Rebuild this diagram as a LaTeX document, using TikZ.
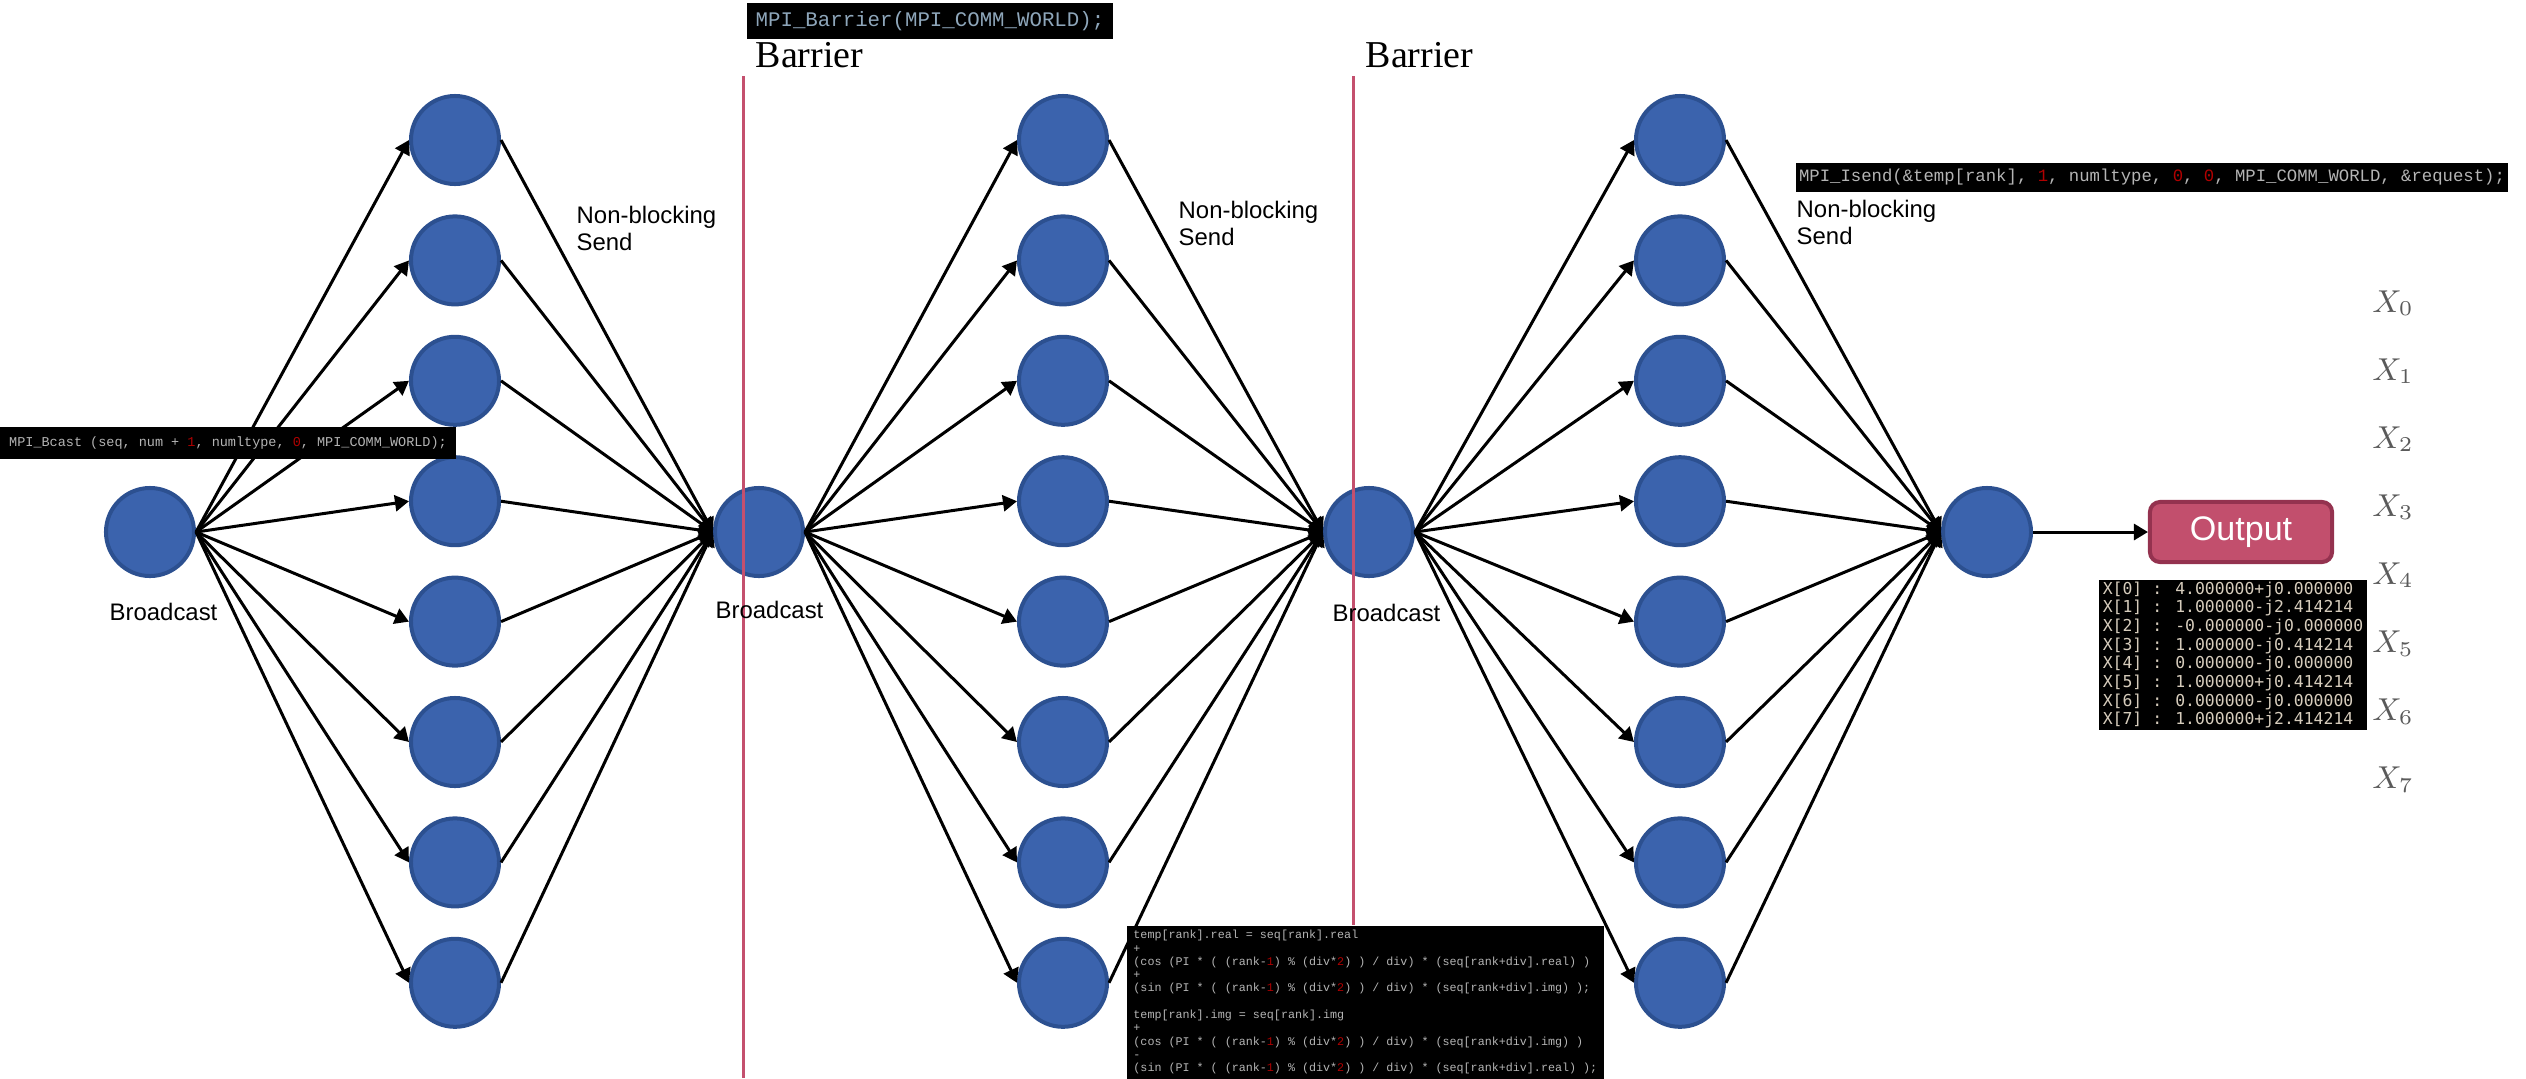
\documentclass[tikz,border=0pt]{standalone}
\usepackage{fontspec}
\setmainfont{Liberation Sans}
\newfontfamily\seriffont{Liberation Serif}
\newfontfamily\codefont{Liberation Mono}
\newfontfamily\termfont{DejaVu Sans Mono}
\usepackage{xcolor}
\usetikzlibrary{positioning,arrows.meta}

\definecolor{procblue}{HTML}{3B63AD}
\definecolor{procedge}{HTML}{2C5090}
\definecolor{outfill}{HTML}{C24F6D}
\definecolor{outedge}{HTML}{94324F}
\definecolor{barrierred}{HTML}{C4506E}
\definecolor{codegrey}{HTML}{B4B4B4}
\definecolor{codered}{HTML}{B00000}
\definecolor{codeblue}{HTML}{8EA6BA}
\definecolor{termtext}{HTML}{D6CCBC}
\definecolor{xgrey}{HTML}{5A5A5A}

\newcommand{\rd}[1]{\textcolor{codered}{#1}}

\tikzset{
  proc/.style={circle,fill=procblue,draw=procedge,line width=0.04cm,minimum size=0.88cm,inner sep=0pt},
  codebox/.style={fill=black,inner sep=0pt,text=codegrey},
  lbl/.style={font=\fontsize{6.8}{7.8}\selectfont,align=left,inner sep=0pt},
  flow/.style={->,line width=0.03cm},
  barline/.style={barrierred,line width=0.03cm},
}

\begin{document}
\begin{tikzpicture}[x=0.01cm,y=-0.01cm,>={Triangle[length=1.4mm,width=1.6mm]}]
\useasboundingbox (0,0) rectangle (2526,1078);

% broadcast / gather nodes
\node[proc] (r0) at (150,532) {};
\node[proc] (r1) at (759,532) {};
\node[proc] (r2) at (1369,532) {};
\node[proc] (r3) at (1987,532) {};

% three stages of 8 processes
\foreach \col/\cx/\src/\dst in {a/455/r0/r1, m/1063/r1/r2, f/1680/r2/r3} {
  \foreach \i in {0,...,7} {
    \node[proc] (\col\i) at (\cx,140+120.4*\i) {};
    \draw[flow] (\src.east) -- (\col\i.west);
    \draw[flow] (\col\i.east) -- (\dst.west);
  }
}

\node[draw=outedge,fill=outfill,line width=0.04cm,rounded corners=0.1cm,minimum width=1.82cm,minimum height=0.6cm,text=white,font=\fontsize{9.7}{11}\selectfont] (out) at (2241,532) {Output};
\draw[flow] (r3.east) -- (out.west);

% barriers
\coordinate (b1top) at (743,76);
\coordinate (b1bot) at (743,1078);
\coordinate (b2top) at (1353,76);
\coordinate (b2bot) at (1353,925);
\draw[barline] (b1top) -- (b1bot);
\draw[barline] (b2top) -- (b2bot);
\node[font=\seriffont\fontsize{10.8}{12}\selectfont,anchor=base west,inner sep=0pt] (bar1) at (755,67) {Barrier};
\node[font=\seriffont\fontsize{10.8}{12}\selectfont,anchor=base west,inner sep=0pt] (bar2) at (1365,67) {Barrier};

% labels
\node[lbl,anchor=base west] (t0) at (109,620) {Broadcast};
\node[lbl,anchor=base west] (t1) at (715,618) {Broadcast};
\node[lbl,anchor=base west] (t2) at (1332,621) {Broadcast};
\node[lbl,anchor=north west] (s0) at (576,205) {Non-blocking\\Send};
\node[lbl,anchor=north west] (s1) at (1178,200) {Non-blocking\\Send};
\node[lbl,anchor=north west] (s2) at (1796,199) {Non-blocking\\Send};

\foreach \k in {0,...,7}
  \node[text=xgrey,font=\fontsize{8.8}{10}\selectfont] (x\k) at (2393,303+68.1*\k) {$X_{\k}$};

% code snippets
\node[codebox,text=codeblue,font=\codefont\fontsize{5.9}{7}\selectfont,minimum width=3.65cm,minimum height=0.36cm] (cbar) at (930,21) {MPI\_Barrier(MPI\_COMM\_WORLD);};
\node[codebox,font=\codefont\fontsize{3.84}{4.5}\selectfont,minimum width=4.56cm,minimum height=0.32cm] (cbc) at (228,443) {MPI\_Bcast (seq, num + \rd{1}, numltype, \rd{0}, MPI\_COMM\_WORLD);};
\node[codebox,font=\codefont\fontsize{4.92}{5.8}\selectfont,minimum width=7.12cm,minimum height=0.29cm] (cis) at (2152,177.5) {MPI\_Isend(\&temp[rank], \rd{1}, numltype, \rd{0}, \rd{0}, MPI\_COMM\_WORLD, \&request);};
\node[codebox,anchor=north west,align=left,font=\codefont\fontsize{3.33}{3.78}\selectfont,minimum width=4.77cm,minimum height=1.53cm] (cbf) at (1126,925) {temp[rank].real = seq[rank].real\\
+\\
(cos (PI * ( (rank-\rd{1}) \% (div*\rd{2}) ) / div) * (seq[rank+div].real) )\\
+\\
(sin (PI * ( (rank-\rd{1}) \% (div*\rd{2}) ) / div) * (seq[rank+div].img) );\\[3.78pt]
temp[rank].img = seq[rank].img\\
+\\
(cos (PI * ( (rank-\rd{1}) \% (div*\rd{2}) ) / div) * (seq[rank+div].img) )\\
-\\
(sin (PI * ( (rank-\rd{1}) \% (div*\rd{2}) ) / div) * (seq[rank+div].real) );};
\node[fill=black,text=termtext,inner sep=0pt,align=left,font=\termfont\fontsize{4.67}{5.3}\selectfont,minimum width=2.68cm,minimum height=1.5cm] (res) at (2233,655) {X[0] : 4.000000+j0.000000\\
X[1] : 1.000000-j2.414214\\
X[2] : -0.000000-j0.000000\\
X[3] : 1.000000-j0.414214\\
X[4] : 0.000000-j0.000000\\
X[5] : 1.000000+j0.414214\\
X[6] : 0.000000-j0.000000\\
X[7] : 1.000000+j2.414214};
\end{tikzpicture}
\end{document}
